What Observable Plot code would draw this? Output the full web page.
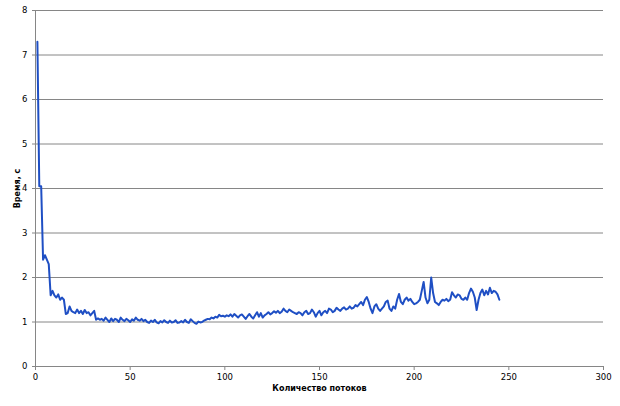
<!DOCTYPE html>
<html>
<head>
<meta charset="utf-8">
<script src="https://cdn.jsdelivr.net/npm/d3@7"></script>
<script src="https://cdn.jsdelivr.net/npm/@observablehq/plot@0.6"></script>
<style>
  html, body { margin: 0; padding: 0; background: #fff; }
  #chart svg { display: block; }
</style>
</head>
<body>
<div id="chart"></div>
<script>
const xLabel = "Количество потоков";
const yLabel = "Время, с";
const xTicks = [0, 50, 100, 150, 200, 250, 300];
const yTicks = [0, 1, 2, 3, 4, 5, 6, 7, 8];
// time (s) for thread counts 1..245
const times = [
  7.3, 4.05, 4.05, 2.4, 2.5, 2.4, 2.3, 1.6, 1.7, 1.6,
  1.55, 1.62, 1.5, 1.55, 1.5, 1.18, 1.2, 1.35, 1.25, 1.22,
  1.2, 1.28, 1.2, 1.25, 1.18, 1.27, 1.2, 1.22, 1.15, 1.2,
  1.25, 1.05, 1.08, 1.05, 1.07, 1.03, 1.1, 1.05, 1.0, 1.08,
  1.02, 1.07, 1.05, 1.0, 1.1, 1.05, 1.02, 1.07, 1.04, 1.0,
  1.06, 1.03, 1.1, 1.05, 1.03, 1.07, 1.02, 1.05, 1.0, 0.98,
  1.03, 1.0, 1.05, 0.99, 0.97, 1.02, 0.99, 1.04, 1.0, 0.98,
  1.03, 0.99, 1.0, 1.04, 0.98, 0.99, 1.02, 0.99, 1.05, 1.0,
  0.98, 1.06, 1.02, 0.98, 0.96, 1.01, 0.99, 1.0, 1.03, 1.05,
  1.07, 1.06, 1.1, 1.08, 1.12, 1.1, 1.16, 1.13, 1.14, 1.12,
  1.15, 1.13, 1.17, 1.12, 1.18, 1.14, 1.1, 1.15, 1.17, 1.12,
  1.07, 1.13, 1.18, 1.12, 1.08, 1.15, 1.22, 1.12, 1.2, 1.1,
  1.15, 1.18, 1.22, 1.17, 1.2, 1.24, 1.21, 1.25, 1.2, 1.23,
  1.3, 1.25, 1.22, 1.28, 1.25, 1.22, 1.2, 1.18, 1.22, 1.2,
  1.15, 1.22, 1.25, 1.18, 1.2, 1.28, 1.22, 1.12, 1.2, 1.25,
  1.15, 1.22, 1.25, 1.2, 1.3, 1.28, 1.22, 1.25, 1.32, 1.28,
  1.25, 1.3, 1.33, 1.28, 1.3, 1.35, 1.3, 1.32, 1.38, 1.35,
  1.4, 1.45, 1.38, 1.5, 1.56, 1.45, 1.3, 1.2, 1.35, 1.4,
  1.3, 1.25, 1.3, 1.35, 1.45, 1.48, 1.3, 1.25, 1.35, 1.3,
  1.5, 1.63, 1.45, 1.4, 1.5, 1.55, 1.48, 1.52, 1.45, 1.4,
  1.42, 1.45, 1.5, 1.7, 1.9, 1.55, 1.42, 1.5, 2.0, 1.65,
  1.45, 1.42, 1.38, 1.45, 1.5, 1.48, 1.52, 1.47, 1.5, 1.67,
  1.6, 1.55, 1.62, 1.6, 1.52, 1.5, 1.55, 1.5, 1.65, 1.75,
  1.68, 1.55, 1.27, 1.5, 1.65, 1.73, 1.6, 1.7, 1.62, 1.77,
  1.65, 1.7, 1.68, 1.62, 1.5
];
const threads = times.map((_, i) => i + 1);
const data = times.map((t, i) => ({n: threads[i], t}));

const fontFam = "'DejaVu Sans', Verdana, sans-serif";
const chart = Plot.plot({
  width: 620,
  height: 406,
  marginLeft: 35,
  marginRight: 17,
  marginTop: 10,
  marginBottom: 40,
  style: {fontFamily: fontFam, fontSize: "8.5px", background: "#fff", color: "#000"},
  x: {domain: [0, 300], label: null},
  y: {domain: [0, 8], label: null},
  marks: [
    Plot.gridY(yTicks.filter(d => d > 0), {stroke: "#868686", strokeOpacity: 1}),
    Plot.ruleY([0], {stroke: "#868686"}),
    Plot.ruleX([0], {stroke: "#868686"}),
    Plot.axisX(xTicks, {tickSize: 4, tickPadding: 3, stroke: "#868686", fill: "#000", label: null}),
    Plot.axisY(yTicks, {tickSize: 3, tickPadding: 5, stroke: "#868686", fill: "#000", label: null}),
    Plot.line(data, {x: "n", y: "t", stroke: "#1f4fc4", strokeWidth: 2, strokeLinejoin: "round"}),
    Plot.text([yLabel], {frameAnchor: "left", textAnchor: "middle", dx: -18, rotate: -90, fontWeight: "bold", fontSize: 8, fill: "#000"}),
    Plot.text([xLabel], {frameAnchor: "bottom", dy: 24, fontWeight: "bold", fontSize: 8, fill: "#000"})
  ]
});
document.getElementById("chart").appendChild(chart);
</script>
</body>
</html>
